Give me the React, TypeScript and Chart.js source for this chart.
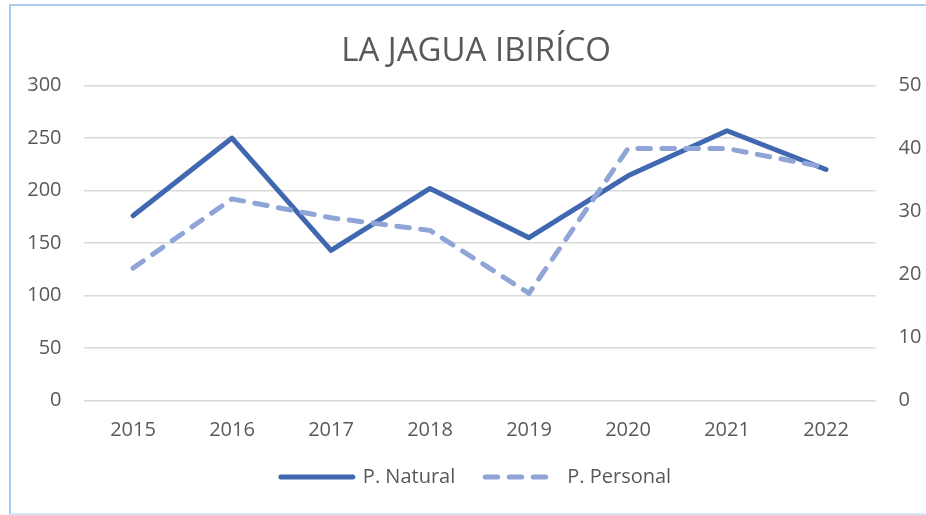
import React, { useEffect, useRef } from "react";
import { Chart, registerables } from "chart.js";

Chart.register(...registerables);

const TITLE = "LA JAGUA IBIRÍCO";
const YEARS = ["2015", "2016", "2017", "2018", "2019", "2020", "2021", "2022"];
const NATURAL_LABEL = "P. Natural";
const PERSONAL_LABEL = "P. Personal";
const NATURAL = [176, 250, 143, 202, 155, 214, 257, 220];
const PERSONAL = [21, 32, 29, 27, 17, 40, 40, 37];
const LEFT_AXIS = { min: 0, max: 300, step: 50 };
const RIGHT_AXIS = { min: 0, max: 50, step: 10 };

const FONT = "'Open Sans', 'Noto Sans', sans-serif";
const TEXT = "#595959";

export default function App() {
  const ref = useRef<HTMLCanvasElement | null>(null);

  useEffect(() => {
    if (!ref.current) return;
    const chart = new Chart(ref.current, {
      type: "line",
      data: {
        labels: YEARS,
        datasets: [
          {
            label: NATURAL_LABEL,
            data: NATURAL,
            yAxisID: "y",
            borderColor: "#4068b0",
            backgroundColor: "#4068b0",
            borderWidth: 5,
            pointRadius: 0,
            tension: 0,
            borderCapStyle: "round",
            borderJoinStyle: "round",
            order: 1,
          },
          {
            label: PERSONAL_LABEL,
            data: PERSONAL,
            yAxisID: "y1",
            borderColor: "#8fa5d7",
            backgroundColor: "#8fa5d7",
            borderWidth: 5,
            borderDash: [12.5, 11.5],
            pointRadius: 0,
            tension: 0,
            borderCapStyle: "round",
            borderJoinStyle: "round",
            order: 0,
          },
        ],
      },
      options: {
        animation: false,
        responsive: false,
        maintainAspectRatio: false,
        layout: { padding: { left: 26, right: 0, top: 0, bottom: 18 } },
        plugins: {
          title: {
            display: true,
            text: TITLE,
            color: TEXT,
            font: { family: FONT, size: 33, weight: "normal" },
            padding: { top: 32, bottom: 14 },
          },
          legend: {
            position: "bottom",
            labels: {
              usePointStyle: true,
              pointStyle: "line",
              pointStyleWidth: 72,
              boxHeight: 20,
              padding: 30,
              color: TEXT,
              font: { family: FONT, size: 20 },
              sort: (a: any, b: any) => a.datasetIndex - b.datasetIndex,
              generateLabels: (c: any) => {
                const items = (Chart.defaults as any).plugins.legend.labels.generateLabels(c);
                items.forEach((it: any) => {
                  const ds: any = c.data.datasets[it.datasetIndex];
                  it.lineDash = ds.borderDash || [];
                  it.lineDashOffset = 0;
                  it.lineWidth = ds.borderWidth;
                  it.strokeStyle = ds.borderColor;
                  it.fillStyle = ds.borderColor;
                  it.lineCap = "round";
                  it.pointStyle = "line";
                });
                return items;
              },
            },
          },
          tooltip: { enabled: false },
        },
        scales: {
          x: {
            offset: true,
            grid: { display: false, drawTicks: false, offset: true },
            border: { display: false },
            ticks: { color: TEXT, font: { family: FONT, size: 20 }, padding: 18 },
            afterFit: (s: any) => {
              s.height = 36.7;
            },
          },
          y: {
            position: "left",
            min: LEFT_AXIS.min,
            max: LEFT_AXIS.max,
            ticks: {
              stepSize: LEFT_AXIS.step,
              color: TEXT,
              font: { family: FONT, size: 20 },
              padding: 22,
            },
            grid: { color: "#d9d9d9", lineWidth: 1.5, drawTicks: false },
            border: { display: false },
            afterFit: (s: any) => {
              s.width = 57.5;
            },
          },
          y1: {
            position: "right",
            min: RIGHT_AXIS.min,
            max: RIGHT_AXIS.max,
            ticks: {
              stepSize: RIGHT_AXIS.step,
              color: TEXT,
              font: { family: FONT, size: 20 },
              padding: 23,
            },
            grid: { display: false, drawTicks: false },
            border: { display: false },
            afterFit: (s: any) => {
              s.width = 50.5;
            },
          },
        },
      },
    });
    return () => chart.destroy();
  }, []);

  return (
    <div style={{ position: "fixed", left: 0, top: 0, width: 926, height: 515, background: "#fff", overflow: "hidden" }}>
      <canvas ref={ref} width={926} height={515} style={{ position: "absolute", left: 0, top: 0, width: 926, height: 515 }} />
      <div
        style={{
          position: "absolute",
          left: 9,
          top: 4,
          width: 930,
          height: 511,
          boxSizing: "border-box",
          borderTop: "2px solid #a9cbee",
          borderLeft: "2px solid #a9cbee",
          borderBottom: "2px solid #d6e7f8",
          pointerEvents: "none",
        }}
      />
    </div>
  );
}
